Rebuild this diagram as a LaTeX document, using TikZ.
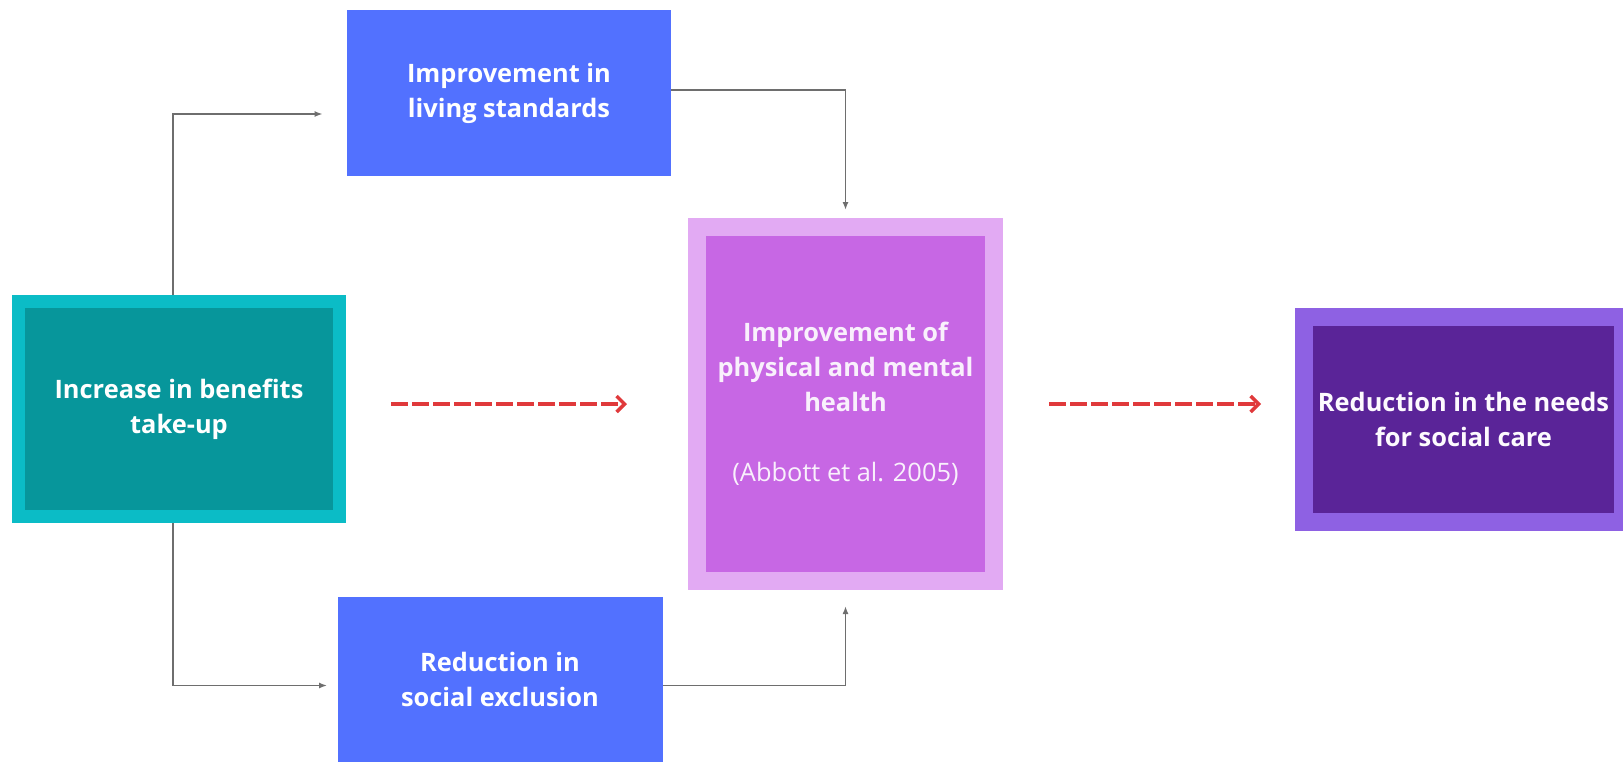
\documentclass[tikz,border=0pt]{standalone}
\usepackage{fontspec}
\setsansfont{Open Sans}
\usepackage{tikz}
\usetikzlibrary{arrows.meta, calc, positioning}
\definecolor{myteal}{HTML}{0BBCC6}
\definecolor{mydarkteal}{HTML}{07969B}
\definecolor{myblue}{HTML}{5271FF}
\definecolor{mylilac}{HTML}{E2AAF3}
\definecolor{mymagenta}{HTML}{C767E4}
\definecolor{myviolet}{HTML}{8E61E3}
\definecolor{mydarkviolet}{HTML}{5A2498}
\definecolor{myred}{HTML}{E0393B}
\definecolor{mygrey}{HTML}{6E6E6E}
\tikzset{
  >=latex,  % frecce di default
  % Riquadri
  box/.style={rectangle,inner sep=0,align=center,text=white,
    font=\sffamily\bfseries\fontsize{12.7}{17.5}\selectfont},
  box plain/.style={box,fill=myblue},
  box start/.style={box,fill=mydarkteal,draw=myteal,line width=6.5pt},
  box mid/.style={box,fill=mymagenta,draw=mylilac,line width=9pt,text=white!90!mymagenta},
  box end/.style={box,fill=mydarkviolet,draw=myviolet,line width=9pt,text=white!94!mylilac},
  % Connessioni
  connect arrow/.style={-{Latex[length=4pt,width=3pt]},line width=0.8pt,mygrey},
  connect dashed/.style={-{Straight Barb[length=4pt,width=8pt]},line width=1.7pt,myred,
    dash pattern=on 8.5pt off 2pt}
}
\begin{document}
\begin{tikzpicture}[x=0.5pt,y=-0.5pt]
    \useasboundingbox (0,0) rectangle (1623,762);
    \node[box start, minimum width=160.5pt, minimum height=107.5pt] (takeup) at (179,409)
      {Increase in benefits\\take-up};
    \node[box plain, minimum width=162pt, minimum height=83pt] (living) at (509,93)
      {Improvement in\\living standards};
    \node[box plain, minimum width=162.5pt, minimum height=82.5pt] (exclusion) at (500,679.5)
      {Reduction in\\social exclusion};
    \node[box mid, minimum width=148.5pt, minimum height=177pt] (health) at (845.5,404)
      {Improvement of\\physical and mental\\health\\[17.5pt]{\mdseries (Abbott et al. 2005)}};
    \node[box end, minimum width=159.5pt, minimum height=102.5pt] (care) at (1463.5,419.5)
      {Reduction in the needs\\for social care};
    \draw[connect arrow] ($(takeup.north)+(-6,0)$) |- ($(living.west)+(-24,21)$);
    \draw[connect arrow] ($(takeup.south)+(-6,0)$) |- ($(exclusion.west)+(-10,6)$);
    \draw[connect arrow, shorten >=4pt] ($(living.east)+(0,-3)$) -| (health.north);
    \draw[connect arrow, shorten >=8pt] ($(exclusion.east)+(0,6)$) -| (health.south);
    \draw[connect dashed, shorten <=22.5pt, shorten >=30.5pt] (health.west -| takeup.east) -- (health.west);
    \draw[connect dashed, shorten <=23pt, shorten >=17pt] (health.east) -- (health.east -| care.west);
  \end{tikzpicture}
\end{document}
